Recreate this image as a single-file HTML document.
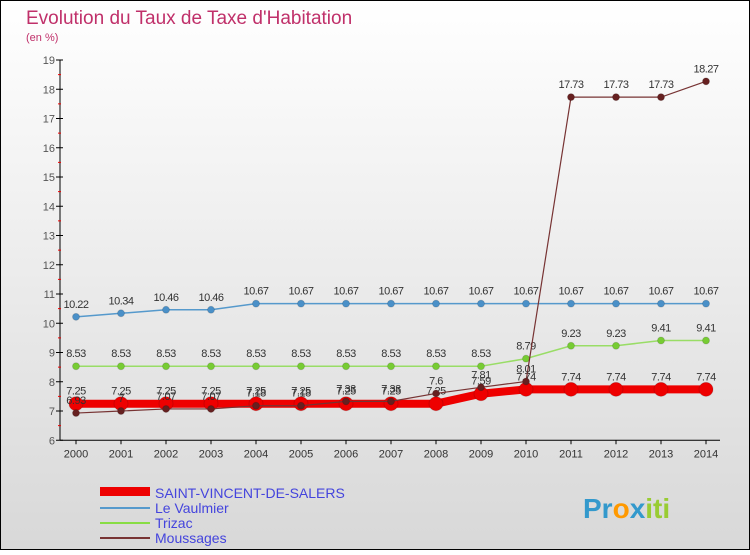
<!DOCTYPE html>
<html><head><meta charset="utf-8"><style>
html,body{margin:0;padding:0}
body{width:750px;height:550px;overflow:hidden;font-family:"Liberation Sans",sans-serif}
</style></head><body>
<svg width="750" height="550" xmlns="http://www.w3.org/2000/svg" font-family="Liberation Sans, sans-serif">
<defs><linearGradient id="bg" x1="0" y1="0" x2="0" y2="1"><stop offset="0" stop-color="#ffffff"/><stop offset="1" stop-color="#d8d8d8"/></linearGradient></defs>
<rect x="0.5" y="0.5" width="749" height="549" fill="url(#bg)" stroke="#000"/>
<text x="26" y="24" font-size="19" fill="#c0306a">Evolution du Taux de Taxe d'Habitation</text>
<text x="26" y="41" font-size="11" fill="#c0306a">(en %)</text>
<g id="axes"></g>
<g id="series"></g>
<g>
<rect x="100" y="487" width="50" height="9" fill="#ee0000"/>
<text x="155" y="498" font-size="14" fill="#4444dd">SAINT-VINCENT-DE-SALERS</text>
<line x1="100" y1="508" x2="150" y2="508" stroke="#5599cc" stroke-width="2"/>
<text x="155" y="513" font-size="14" fill="#4444dd">Le Vaulmier</text>
<line x1="100" y1="523" x2="150" y2="523" stroke="#88dd44" stroke-width="2"/>
<text x="155" y="528" font-size="14" fill="#4444dd">Trizac</text>
<line x1="100" y1="538" x2="150" y2="538" stroke="#773333" stroke-width="2"/>
<text x="155" y="543" font-size="14" fill="#4444dd">Moussages</text>
</g>
<text x="583" y="518" font-size="28" font-weight="bold" fill="#3399cc">Pr<tspan fill="#ff9900">o</tspan><tspan fill="#3399cc">x</tspan><tspan fill="#99cc33">iti</tspan></text>
</svg>
<script>
const years=[2000,2001,2002,2003,2004,2005,2006,2007,2008,2009,2010,2011,2012,2013,2014];
const yTicks=[6,7,8,9,10,11,12,13,14,15,16,17,18,19];
const svsValues=[7.25,7.25,7.25,7.25,7.25,7.25,7.25,7.25,7.25,7.59,7.74,7.74,7.74,7.74,7.74];
const vaulmierValues=[10.22,10.34,10.46,10.46,10.67,10.67,10.67,10.67,10.67,10.67,10.67,10.67,10.67,10.67,10.67];
const trizacValues=[8.53,8.53,8.53,8.53,8.53,8.53,8.53,8.53,8.53,8.53,8.79,9.23,9.23,9.41,9.41];
const moussagesValues=[6.93,7,7.07,7.07,7.18,7.18,7.33,7.33,7.6,7.81,8.01,17.73,17.73,17.73,18.27];
const NS="http://www.w3.org/2000/svg";
const X=i=>76+i*45;
const Y=v=>411-(v-7)*29.25;
function mk(tag,attrs,parent){const e=document.createElementNS(NS,tag);for(const k in attrs)e.setAttribute(k,attrs[k]);parent.appendChild(e);return e;}
const ax=document.getElementById('axes');
let yl=mk('line',{x1:60,y1:Y(19),x2:60,y2:Y(6),stroke:'#000'},ax);


let xl=mk('line',{x1:60,y1:Y(6),x2:720,y2:Y(6),stroke:'#000'},ax);


yTicks.forEach(t=>{
 mk('line',{x1:56,y1:Y(t),x2:63,y2:Y(t),stroke:'#000'},ax);
 if(t<19)mk('line',{x1:58,y1:Y(t+0.5),x2:61,y2:Y(t+0.5),stroke:'#e00'},ax);
 const tx=mk('text',{x:55,y:Y(t)+4,'font-size':11,fill:'#555','text-anchor':'end'},ax);tx.textContent=t;
 
 
});
years.forEach((yr,i)=>{
 mk('line',{x1:X(i),y1:Y(6),x2:X(i),y2:Y(6)+4,stroke:'#000'},ax);
 const tx=mk('text',{x:X(i),y:Y(6)+17,'font-size':11,fill:'#333','text-anchor':'middle'},ax);tx.textContent=yr;
 
 
});
const sg=document.getElementById('series');
function series(vals,color,w,r,dotFill,name){
 const g=mk('g',{},sg);
 
 
 mk('polyline',{points:vals.map((v,i)=>X(i)+','+Y(v)).join(' '),fill:'none',stroke:color,'stroke-width':w},g);
 vals.forEach((v,i)=>{
  const c=mk('circle',{cx:X(i),cy:Y(v),r:r,fill:dotFill,stroke:'#0002'},g);
  
  
  const t=mk('text',{x:X(i),y:Y(v)-9,'font-size':11,fill:'#333','text-anchor':'middle','letter-spacing':'-0.5'},g);
  t.textContent=v;
 });
}
series(vaulmierValues,'#5599cc',1.5,3.5,'#4a90c8','le-vaulmier-series');
series(trizacValues,'#99dd66',1.5,3.5,'#77cc33','trizac-series');
series(svsValues,'#ee0000',8,7,'#ee0000','saint-vincent-series');
series(moussagesValues,'#773333',1.2,3.5,'#662020','moussages-series');
</script>
</body></html>
